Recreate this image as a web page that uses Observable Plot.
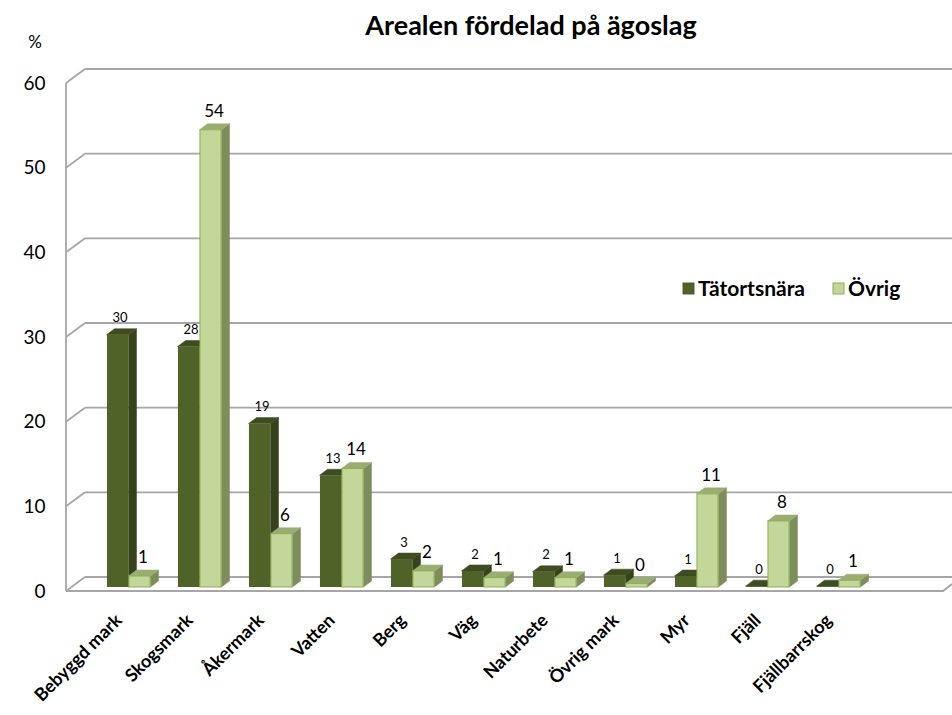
<!DOCTYPE html>
<html><head><meta charset="utf-8">
<script src="https://cdn.jsdelivr.net/npm/d3@7"></script>
<script src="https://cdn.jsdelivr.net/npm/@observablehq/plot@0.6"></script>
<style>body{margin:0;background:#fff}svg{display:block}</style>
</head><body><div id="chart"></div>
<script>
const title = "Arealen fördelad på ägoslag";
const yUnit = "%";
const categories = ["Bebyggd mark","Skogsmark","Åkermark","Vatten","Berg","Väg","Naturbete","Övrig mark","Myr","Fjäll","Fjällbarrskog"];
const series = ["Tätortsnära","Övrig"];
const tatortsnara = [29.8, 28.4, 19.3, 13.2, 3.3, 1.9, 1.8, 1.4, 1.3, 0.1, 0.1];
const ovrig = [1.3, 54.0, 6.3, 14.0, 1.9, 1.1, 1.1, 0.4, 11.0, 7.8, 0.8];
const yTicks = [0, 10, 20, 30, 40, 50, 60];

const colors = {
  "Tätortsnära": {front: "#4f6228", side: "#35431b", top: "#3e4d20", stroke: "#4a5c25"},
  "Övrig": {front: "#c4d79b", side: "#7d8e5c", top: "#9aae72", stroke: "#8db050"}
};

const dark = categories.map((c, i) => ({category: c, series: series[0], value: tatortsnara[i]}));
const light = categories.map((c, i) => ({category: c, series: series[1], value: ovrig[i]}));

const BAR = 22, DX = 8, DY = 6;
const FONT = "Lato, 'Open Sans', 'Liberation Sans', sans-serif";

function offsetFor(s, bw) { return s === series[0] ? bw / 2 - BAR : bw / 2; }

function faces(data) {
  return (index, scales, values, dims) => {
    const x = scales.x, y = scales.y;
    const bw = x.bandwidth ? x.bandwidth() : 72;
    const g = d3.create("svg:g");
    for (const d of data) {
      const c = colors[d.series];
      const x0 = x(d.category) + offsetFor(d.series, bw);
      const x1 = x0 + BAR;
      const yt = y(d.value), yb = y(0);
      g.append("polygon")
        .attr("points", [[x1, yt], [x1 + DX, yt - DY], [x1 + DX, yb - DY], [x1, yb]].join(" "))
        .attr("fill", c.side).attr("stroke", c.side).attr("stroke-width", 0.5);
      g.append("polygon")
        .attr("points", [[x0, yt], [x0 + DX, yt - DY], [x1 + DX, yt - DY], [x1, yt]].join(" "))
        .attr("fill", c.top).attr("stroke", c.top).attr("stroke-width", 0.5);
    }
    return g.node();
  };
}

function walls(index, scales, values, dims) {
  const y = scales.y;
  const g = d3.create("svg:g").attr("fill", "none").attr("stroke", "#a6a6a6").attr("stroke-width", 1.8);
  const xl = dims.marginLeft, xb = xl + 19, xr = dims.width;
  const ff = 4, bk = -10;
  for (const t of yTicks) {
    g.append("line").attr("x1", xb).attr("x2", xr).attr("y1", y(t) + bk).attr("y2", y(t) + bk);
    g.append("line").attr("x1", xl).attr("x2", xb).attr("y1", y(t) + ff).attr("y2", y(t) + bk);
  }
  g.append("line").attr("x1", xl).attr("x2", xl).attr("y1", y(60) + ff).attr("y2", y(0) + ff);
  g.append("polyline").attr("points", [[xl, y(0) + ff], [xr - 9, y(0) + ff], [xr, y(0) + ff - 7]].join(" "));
  return g.node();
}

function annotations(index, scales, values, dims) {
  const g = d3.create("svg:g").attr("font-family", FONT).attr("text-anchor", "start");
  g.append("text").attr("x", 531).attr("y", 35).attr("text-anchor", "middle")
    .attr("font-size", 27).attr("font-weight", "bold").attr("fill", "#000").text(title);
  g.append("text").attr("x", 35).attr("y", 48).attr("text-anchor", "middle")
    .attr("font-size", 17).attr("fill", "#000").text(yUnit);
  const items = [{s: series[0], x: 683}, {s: series[1], x: 833}];
  for (const it of items) {
    const c = colors[it.s];
    g.append("rect").attr("x", it.x).attr("y", 283).attr("width", 11).attr("height", 11)
      .attr("fill", c.front).attr("stroke", it.s === series[1] ? c.stroke : c.front);
    g.append("text").attr("x", it.x + 15).attr("y", 296).attr("font-size", 21)
      .attr("font-weight", "bold").attr("fill", "#000").text(it.s);
  }
  return g.node();
}

const bw0 = (879 - 88) / categories.length;

const chart = Plot.plot({
  width: 952,
  height: 715,
  marginLeft: 66,
  marginRight: 0,
  marginTop: 79,
  marginBottom: 128,
  style: {fontFamily: FONT, background: "#fff", overflow: "visible"},
  x: {domain: categories, range: [88, 879], padding: 0, axis: null},
  y: {domain: [0, 60], ticks: yTicks, axis: null},
  marks: [
    walls,
    Plot.axisY({ticks: yTicks, tickSize: 0, tickPadding: 21, dy: 4, fontSize: 19, fill: "#000", anchor: "left", label: null}),
    faces(dark),
    Plot.barY(dark, {x: "category", y: "value", fill: colors["Tätortsnära"].front,
      insetLeft: bw0 / 2 - BAR, insetRight: bw0 / 2}),
    faces(light),
    Plot.barY(light, {x: "category", y: "value", fill: colors["Övrig"].front, stroke: colors["Övrig"].stroke, strokeWidth: 1,
      insetLeft: bw0 / 2, insetRight: bw0 / 2 - BAR}),
    Plot.text(dark, {x: "category", y: "value", text: d => String(Math.round(d.value)), dx: -BAR / 2 + 2, dy: -17, fontSize: 13, fill: "#000"}),
    Plot.text(light, {x: "category", y: "value", text: d => String(Math.round(d.value)), dx: BAR / 2 + 3, dy: -19, fontSize: 17, fill: "#000"}),
    Plot.text(categories, {x: d => d, frameAnchor: "bottom", text: d => d, rotate: -45, textAnchor: "end",
      dx: -6, dy: 34, fontSize: 18, fontWeight: "bold", fill: "#000"}),
    annotations
  ]
});
document.getElementById("chart").appendChild(chart);
</script>
</body></html>
